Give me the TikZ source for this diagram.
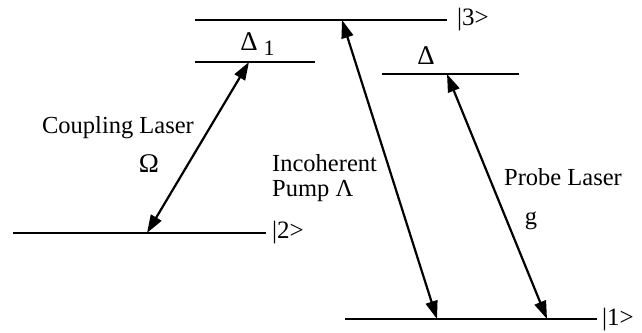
\documentclass[tikz,border=0pt]{standalone}
\usepackage{fontspec}
\setmainfont{Liberation Serif}
\usetikzlibrary{arrows.meta}
\begin{document}
\begin{tikzpicture}[x=1pt,y=-1pt,
  levelline/.style={line width=2.2pt},
  trans/.style={line width=2.2pt,{Triangle[length=18pt,width=12pt]}-{Triangle[length=18pt,width=12pt]}},
  lbl/.style={font=\fontsize{24.5}{26}\selectfont, inner sep=0pt},
  greek/.style={font=\fontsize{27}{29}\selectfont, inner sep=0pt},
  ket/.style={font=\fontsize{25}{27}\selectfont, inner sep=0pt, anchor=west}]
\useasboundingbox (0,0) rectangle (642,332);
% level end points
\coordinate (L3a) at (195,20);  \coordinate (L3b) at (447,20);
\coordinate (D1a) at (195,62);  \coordinate (D1b) at (315,62);
\coordinate (Da)  at (382,74);  \coordinate (Db)  at (519,74);
\coordinate (L2a) at (13,233);  \coordinate (L2b) at (266,233);
\coordinate (L1a) at (345,319); \coordinate (L1b) at (597,319);
% arrow end points
\coordinate (cTop) at (249,62);  \coordinate (cBot) at (147,233);
\coordinate (pTop) at (342,20);  \coordinate (pBot) at (437,319);
\coordinate (gTop) at (447,74);  \coordinate (gBot) at (547,319);
% levels
\draw[levelline] (L3a) -- (L3b);
\draw[levelline] (D1a) -- (D1b);
\draw[levelline] (Da) -- (Db);
\draw[levelline] (L2a) -- (L2b);
\draw[levelline] (L1a) -- (L1b);
% kets
\node[ket] (k3) at (457,20) {|3>};
\node[ket] (k2) at (272,233) {|2>};
\node[ket] (k1) at (602,320) {|1>};
% detunings
\node[greek, anchor=base] (d1) at (249,50) {Δ};
\node[font=\fontsize{22}{24}\selectfont, inner sep=0pt, anchor=base] (d1s) at (269,55) {1};
\node[greek, anchor=base] (d) at (426,64) {Δ};
% transitions
\draw[trans] (cBot) -- (cTop);
\draw[trans] (pTop) -- (pBot);
\draw[trans] (gTop) -- (gBot);
% labels
\node[lbl, anchor=base] (cl) at (118,133) {Coupling Laser};
\node[greek, anchor=base] (om) at (149,172) {Ω};
\node[lbl, anchor=base west] (inc) at (272,171) {Incoherent};
\node[lbl, anchor=base west] (pump) at (272,196) {Pump Λ};
\node[lbl, anchor=base west] (pl) at (504,185) {Probe Laser};
\node[lbl, anchor=base] (g) at (531,224) {g};
\end{tikzpicture}
\end{document}
